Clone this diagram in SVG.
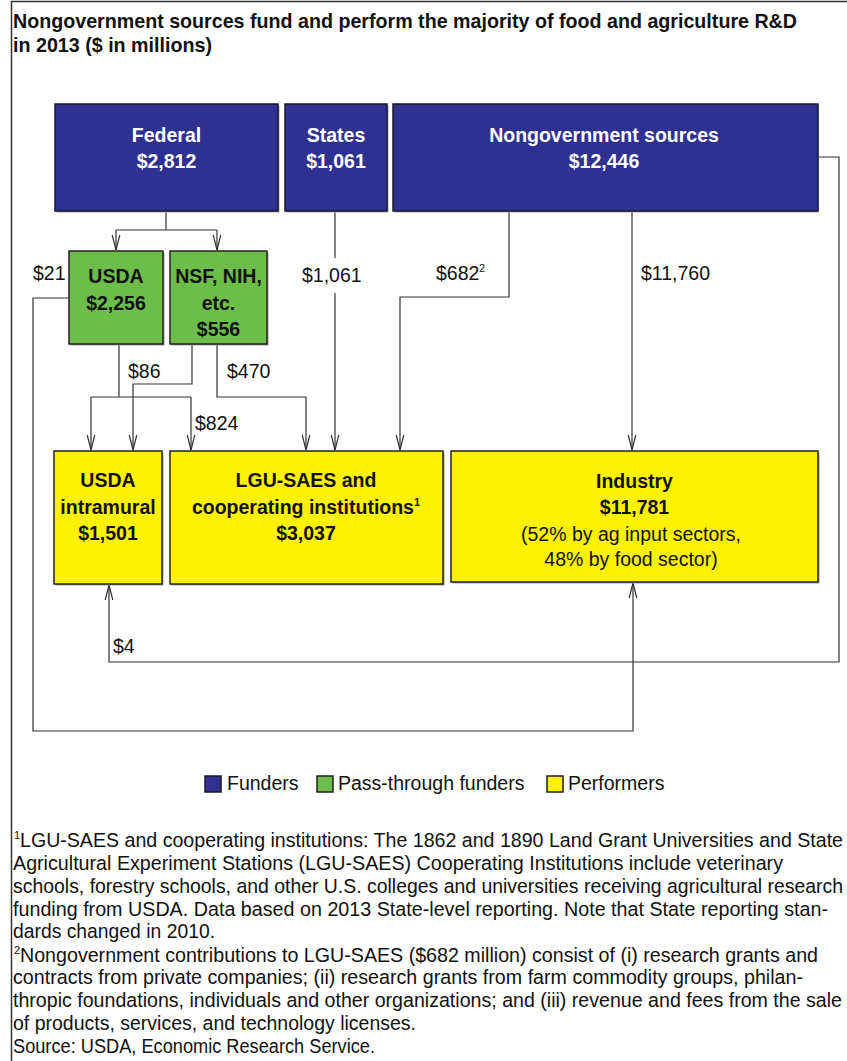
<svg xmlns="http://www.w3.org/2000/svg" width="847" height="1061" viewBox="0 0 847 1061">
<style>
text{font-family:"Liberation Sans",Arial,Helvetica,sans-serif;fill:#111}
.title{font-size:21px;font-weight:bold}
.bl{font-size:19.5px;font-weight:bold;text-anchor:middle}
.wt{fill:#fff}
.rg{font-size:19.5px;text-anchor:middle}
.lab{font-size:19.5px}
.leg{font-size:19.5px}
.fn{font-size:20.5px}
.sup{font-size:11px}
.fund{fill:#2E3192;stroke:#1a1a2a;stroke-width:1.5}
.pass{fill:#6CBD4A;stroke:#222;stroke-width:1.5}
.perf{fill:#FFF200;stroke:#222;stroke-width:1.5}
.sh{fill:#a0a0a0}
.c{fill:none;stroke:#333;stroke-width:1.2}
</style>
<defs>
<marker id="arr" viewBox="-16 -5 17 10" refX="0" refY="0" markerWidth="17" markerHeight="10" markerUnits="userSpaceOnUse" orient="auto">
<path d="M-15,-3.8 L0,0 L-15,3.8" fill="none" stroke="#333" stroke-width="1.2"/>
</marker>
</defs>
<rect width="847" height="1061" fill="#fff"/>
<path d="M11.5,1061 V1.5 H847" fill="none" stroke="#333" stroke-width="1.5"/>

<g id="title">
<text class="title" x="13" y="28" textLength="784" lengthAdjust="spacingAndGlyphs">Nongovernment sources fund and perform the majority of food and agriculture R&amp;D</text>
<text class="title" x="13" y="52" textLength="199" lengthAdjust="spacingAndGlyphs">in 2013 ($ in millions)</text>
</g>

<g id="connectors">
<path class="c" d="M166,211 V230 M116,230 H217"/>
<path class="c" d="M116,230 V250" marker-end="url(#arr)"/>
<path class="c" d="M217,230 V250" marker-end="url(#arr)"/>
<path class="c" d="M69,298 H33 V731 H633 V583" marker-end="url(#arr)"/>
<path class="c" d="M119,344 V397 M91,397 H191"/>
<path class="c" d="M91,397 V450" marker-end="url(#arr)"/>
<path class="c" d="M191,397 V450" marker-end="url(#arr)"/>
<path class="c" d="M192,344 V384 H133 V450" marker-end="url(#arr)"/>
<path class="c" d="M217,344 V397 H306 V450" marker-end="url(#arr)"/>
<path class="c" d="M335,211 V258"/>
<path class="c" d="M335,293 V450" marker-end="url(#arr)"/>
<path class="c" d="M509,211 V297 H400 V450" marker-end="url(#arr)"/>
<path class="c" d="M632,211 V450" marker-end="url(#arr)"/>
<path class="c" d="M818,157 H839 V662 H109 V585" marker-end="url(#arr)"/>
<text class="lab" x="33" y="280">$21</text>
<text class="lab" x="302" y="282">$1,061</text>
<text class="lab" x="436" y="280">$682</text>
<text class="sup" x="479" y="272">2</text>
<text class="lab" x="641" y="280">$11,760</text>
<text class="lab" x="128" y="378">$86</text>
<text class="lab" x="227" y="378">$470</text>
<text class="lab" x="195" y="430">$824</text>
<text class="lab" x="113" y="653">$4</text>
</g>

<g id="federal">
<rect class="sh" x="56.5" y="105.5" width="223" height="107"/>
<rect class="fund" x="55" y="104" width="223" height="107"/>
<text class="bl wt" x="166.5" y="142">Federal</text>
<text class="bl wt" x="166.5" y="168">$2,812</text>
</g>
<g id="states">
<rect class="sh" x="286.5" y="105.5" width="102" height="107"/>
<rect class="fund" x="285" y="104" width="102" height="107"/>
<text class="bl wt" x="336" y="142">States</text>
<text class="bl wt" x="336" y="168">$1,061</text>
</g>
<g id="nongov">
<rect class="sh" x="394.5" y="105.5" width="424" height="107"/>
<rect class="fund" x="393" y="104" width="425" height="107"/>
<text class="bl wt" x="604" y="142">Nongovernment sources</text>
<text class="bl wt" x="604" y="168">$12,446</text>
</g>

<g id="usda">
<rect class="sh" x="70.5" y="252.5" width="94" height="93"/>
<rect class="pass" x="69" y="251" width="94" height="93"/>
<text class="bl" x="116" y="283">USDA</text>
<text class="bl" x="116" y="310">$2,256</text>
</g>
<g id="nsf">
<rect class="sh" x="171.5" y="252.5" width="97" height="93"/>
<rect class="pass" x="170" y="251" width="97" height="93"/>
<text class="bl" x="218.5" y="283">NSF, NIH,</text>
<text class="bl" x="218.5" y="310">etc.</text>
<text class="bl" x="218.5" y="336">$556</text>
</g>

<g id="intramural">
<rect class="sh" x="55.5" y="452.5" width="108" height="133"/>
<rect class="perf" x="54" y="451" width="108" height="133"/>
<text class="bl" x="108" y="487">USDA</text>
<text class="bl" x="108" y="514">intramural</text>
<text class="bl" x="108" y="540">$1,501</text>
</g>
<g id="lgu">
<rect class="sh" x="171.5" y="452.5" width="273" height="133"/>
<rect class="perf" x="170" y="451" width="273" height="133"/>
<text class="bl" x="306" y="487">LGU-SAES and</text>
<text class="bl" x="306" y="514">cooperating institutions<tspan font-size="11" dy="-8">1</tspan></text>
<text class="bl" x="306" y="540">$3,037</text>
</g>
<g id="industry">
<rect class="sh" x="452.5" y="452.5" width="367" height="131"/>
<rect class="perf" x="451" y="451" width="367" height="131"/>
<text class="bl" x="634.5" y="488">Industry</text>
<text class="bl" x="634.5" y="514">$11,781</text>
<text class="rg" x="631" y="541">(52% by ag input sectors,</text>
<text class="rg" x="631" y="566">48% by food sector)</text>
</g>

<g id="legend">
<rect class="fund" x="205" y="776" width="16" height="16"/>
<text class="leg" x="227" y="790">Funders</text>
<rect class="pass" x="317" y="776" width="16" height="16"/>
<text class="leg" x="338" y="790">Pass-through funders</text>
<rect class="perf" x="547" y="776" width="16" height="16"/>
<text class="leg" x="568" y="790">Performers</text>
</g>

<g id="footnotes">
<text class="sup" x="14" y="839">1</text>
<text class="fn" x="20" y="847" textLength="823" lengthAdjust="spacingAndGlyphs">LGU-SAES and cooperating institutions: The 1862 and 1890 Land Grant Universities and State</text>
<text class="fn" x="13" y="870" textLength="770" lengthAdjust="spacingAndGlyphs">Agricultural Experiment Stations (LGU-SAES) Cooperating Institutions include veterinary</text>
<text class="fn" x="13" y="893" textLength="830" lengthAdjust="spacingAndGlyphs">schools, forestry schools, and other U.S. colleges and universities receiving agricultural research</text>
<text class="fn" x="13" y="916" textLength="815" lengthAdjust="spacingAndGlyphs">funding from USDA. Data based on 2013 State-level reporting. Note that State reporting stan-</text>
<text class="fn" x="13" y="938" textLength="202" lengthAdjust="spacingAndGlyphs">dards changed in 2010.</text>
<text class="sup" x="14" y="954">2</text>
<text class="fn" x="20" y="962" textLength="798" lengthAdjust="spacingAndGlyphs">Nongovernment contributions to LGU-SAES ($682 million) consist of (i) research grants and</text>
<text class="fn" x="13" y="984" textLength="790" lengthAdjust="spacingAndGlyphs">contracts from private companies; (ii) research grants from farm commodity groups, philan-</text>
<text class="fn" x="13" y="1007" textLength="829" lengthAdjust="spacingAndGlyphs">thropic foundations, individuals and other organizations; and (iii) revenue and fees from the sale</text>
<text class="fn" x="13" y="1030" textLength="403" lengthAdjust="spacingAndGlyphs">of products, services, and technology licenses.</text>
<text class="fn" x="13" y="1053" textLength="362" lengthAdjust="spacingAndGlyphs">Source: USDA, Economic Research Service.</text>
</g>
</svg>
